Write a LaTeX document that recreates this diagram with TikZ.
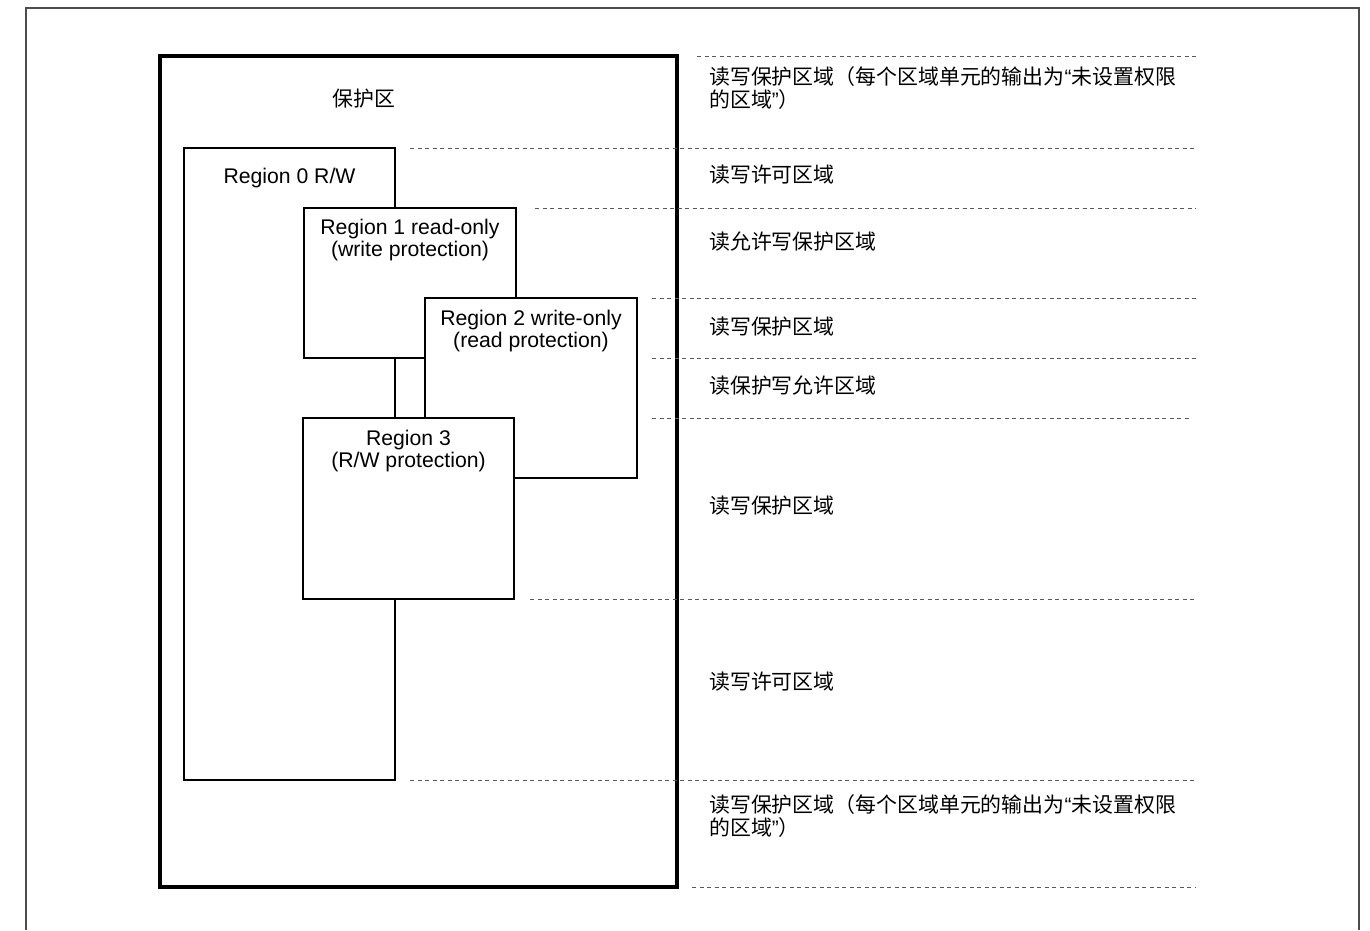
\documentclass[tikz,border=0pt]{standalone}
\usepackage{fontspec}
\setmainfont{Liberation Sans}
\newfontfamily\cjk{Noto Sans CJK SC}
\usetikzlibrary{calc,positioning}

% narrow quotes taken from the Latin font
\newcommand{\openq}{{\rmfamily “}}
\newcommand{\closeq}{{\rmfamily ”}}

\tikzset{
	region/.style={draw,fill=white,line width=1.4pt,inner sep=0pt,outer sep=0pt,anchor=north west},
	rtext/.style={align=center,inner sep=0pt,font=\fontsize{21.2}{22}\selectfont},
	note/.style={anchor=west,align=left,inner sep=0pt,font=\cjk\fontsize{20.9}{23}\selectfont},
	bound/.style={draw=black!65,line width=1pt,dash pattern=on 4pt off 3.5pt},
}

\begin{document}
\begin{tikzpicture}[x=1pt,y=-1pt]
			\useasboundingbox (0,0) rectangle (1370,930);
			
			% page edge
			\draw[black!70,line width=1.5pt] (26,930) -- (26,8) -- (1359,8) -- (1359,930);
			
			\node[draw,line width=3.5pt,inner sep=0pt,outer sep=0pt,anchor=north west,
				minimum width=517pt,minimum height=831pt] (zone) at (160,56) {};
			\node[note,anchor=center] (zonelbl) at (364,99) {保护区};
			
			% regions, later ones cover earlier ones
			\node[region,minimum width=211pt,minimum height=632pt] (r0) at (184,148) {};
			\node[region,minimum width=212pt,minimum height=150pt] (r1) at (304,208) {};
			\node[region,minimum width=212pt,minimum height=180pt] (r2) at (425,298) {};
			\node[region,minimum width=211pt,minimum height=181pt] (r3) at (303,418) {};
			
			\node[rtext,anchor=north,below=19.5pt of r0.north] (r0lbl) {Region 0 R/W};
			\node[rtext,anchor=north,below=11pt of r1.north] (r1lbl) {Region 1 read-only\\(write protection)};
			\node[rtext,anchor=north,below=11.5pt of r2.north] (r2lbl) {Region 2 write-only\\(read protection)};
			\node[rtext,anchor=north,below=11.5pt of r3.north] (r3lbl) {Region 3\\(R/W protection)};
			
			% boundaries
			\coordinate (rim) at (1196,0);
			\draw[bound] ([xshift=20pt]zone.north east) -- (zone.north east -| rim);
			\draw[bound] ([xshift=15pt]r0.north east) -- (r0.north east -| rim);
			\draw[bound] ([xshift=19pt]r1.north east) -- (r1.north east -| rim);
			\draw[bound] ([xshift=15pt]r2.north east) -- (r2.north east -| rim);
			\draw[bound] ([xshift=15pt]r1.south east -| r2.north east) -- (r1.south east -| rim);
			\draw[bound] ([xshift=15pt]r3.north east -| r2.north east) -- ([xshift=-6pt]r3.north east -| rim);
			\draw[bound] ([xshift=16pt]r3.south east) -- (r3.south east -| rim);
			\draw[bound] ([xshift=15pt]r0.south east) -- (r0.south east -| rim);
			\draw[bound] ([xshift=15pt]zone.south east) -- (zone.south east -| rim);
			
			% what each band is
			\node[note] (n1) at (709,88.5) {读写保护区域（每个区域单元的输出为\openq 未设置权限\\的区域\closeq）};
			\node[note] (n2) at (709,175) {读写许可区域};
			\node[note] (n3) at (709,242) {读允许写保护区域};
			\node[note] (n4) at (709,327) {读写保护区域};
			\node[note] (n5) at (709,386) {读保护写允许区域};
			\node[note] (n6) at (709,506) {读写保护区域};
			\node[note] (n7) at (709,682) {读写许可区域};
			\node[note] (n8) at (709,816.5) {读写保护区域（每个区域单元的输出为\openq 未设置权限\\的区域\closeq）};
		\end{tikzpicture}
\end{document}
